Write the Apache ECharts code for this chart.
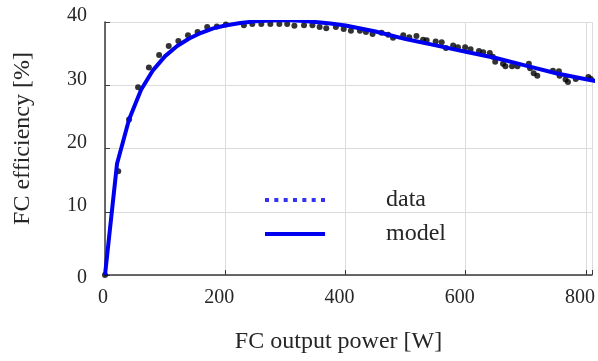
<!DOCTYPE html>
<html>
<head>
<meta charset="utf-8">
<script src="https://cdn.jsdelivr.net/npm/echarts@6/dist/echarts.min.js"></script>
<style>
  html, body { margin: 0; padding: 0; background: #fff; }
  #chart { width: 598px; height: 361px; }
</style>
</head>
<body>
<div id="chart"></div>
<script>
  // measured points (power W, efficiency %)
  var dataPower = [0, 22, 40, 55, 73, 90, 106, 122, 138, 154, 170, 186, 201, 215, 231, 245, 260, 275, 290, 303,
    315, 331, 345, 357, 368, 384, 397, 409, 424, 434, 445, 460, 471, 479, 496, 506, 518, 529, 535, 550,
    560, 567, 579, 587, 599, 608, 622, 629, 640, 645, 649, 662, 666, 677, 686, 705, 707, 713, 719, 745,
    755, 756, 766, 770, 783, 804, 808];
  var dataEff = [0, 16.4, 24.6, 29.7, 32.8, 34.8, 36.2, 37.0, 37.9, 38.4, 39.2, 39.3, 39.6, 40.1, 39.5, 39.7, 39.7, 39.7, 39.7, 39.7,
    39.4, 39.5, 39.5, 39.2, 39.0, 39.2, 38.9, 38.6, 38.6, 38.4, 38.1, 38.3, 38.0, 37.5, 37.9, 37.6, 37.8, 37.2, 37.1, 36.9,
    36.8, 35.9, 36.3, 36.0, 36.0, 35.7, 35.4, 35.2, 35.1, 34.5, 33.7, 33.4, 33.0, 33.0, 33.0, 33.4, 32.7, 31.9, 31.5, 32.3,
    32.2, 31.5, 30.9, 30.5, 31.0, 31.3, 31.0];

  // model curve
  var modelPower = [0, 20, 40, 60, 80, 100, 120, 140, 160, 180, 200, 225, 250, 275, 300, 325, 350, 375, 400,
    450, 500, 550, 600, 650, 700, 750, 800, 820];
  var modelEff = [0, 17.6, 24.6, 29.3, 32.4, 34.6, 36.2, 37.4, 38.3, 39.0, 39.45, 39.85, 40.1, 40.25, 40.3, 40.2, 40.0, 39.75, 39.45,
    38.5, 37.3, 36.3, 35.3, 34.3, 33.1, 31.9, 30.95, 30.6];

  var xTicks = [0, 200, 400, 600, 800];
  var yTicks = [0, 10, 20, 30, 40];

  var fontFam = "'Liberation Serif', 'Times New Roman', serif";
  var ink = '#262626';
  var blue = '#0000f0';

  function zip(a, b) {
    return a.map(function (v, i) { return [v, b[i]]; });
  }

  var dotted = 'path://M0 0h4v4h-4z M9.33 0h4v4h-4z M18.67 0h4v4h-4z M28 0h4v4h-4z M37.33 0h4v4h-4z M46.67 0h4v4h-4z M56 0h4v4h-4z';

  var myChart = echarts.init(document.getElementById('chart'));
  myChart.setOption({
    animation: false,
    grid: { left: 105, right: 0, top: 22, bottom: 86 },
    legend: {
      orient: 'vertical',
      left: 260,
      top: 183,
      itemWidth: 60,
      itemHeight: 4,
      itemGap: 10,
      textStyle: { fontFamily: fontFam, fontSize: 24, color: ink, padding: [0, 0, 0, 56] },
      data: [
        { name: 'data', icon: dotted, itemStyle: { color: blue } },
        { name: 'model', icon: 'rect', itemStyle: { color: blue } }
      ]
    },
    xAxis: {
      type: 'value',
      min: 0,
      max: 810,
      interval: 200,
      name: 'FC output power [W]',
      nameLocation: 'middle',
      nameGap: 55,
      nameTextStyle: { fontFamily: fontFam, fontSize: 24, color: ink, padding: [0, 20, 0, 0] },
      axisLine: { lineStyle: { color: '#3a3a3a', width: 1.5 } },
      axisTick: { inside: true, length: 5, lineStyle: { color: '#3a3a3a' } },
      splitLine: { lineStyle: { color: '#dcdcdc' } },
      axisLabel: {
        margin: 13,
        formatter: function (v) {
          if (xTicks.indexOf(v) < 0) return '';
          return v === 0 ? '{z|0}' : '{t|' + v + '}';
        },
        rich: {
          t: { fontFamily: fontFam, fontSize: 20, color: ink, padding: [0, 12, 0, 0] },
          z: { fontFamily: fontFam, fontSize: 20, color: ink, padding: [0, 4, 0, 0] }
        }
      }
    },
    yAxis: {
      type: 'value',
      min: 0,
      max: 40,
      interval: 10,
      name: 'FC efficiency [%]',
      nameLocation: 'middle',
      nameGap: 70,
      nameTextStyle: { fontFamily: fontFam, fontSize: 24, color: ink, padding: [0, 0, 0, 20] },
      axisLine: { lineStyle: { color: '#3a3a3a', width: 1.5 } },
      axisTick: { inside: true, length: 5, lineStyle: { color: '#3a3a3a' } },
      splitLine: { lineStyle: { color: '#dcdcdc' } },
      axisLabel: {
        margin: 18,
        formatter: function (v) {
          if (yTicks.indexOf(v) < 0) return '';
          return v === 0 ? '{z|0}' : '{t|' + v + '}';
        },
        rich: {
          t: { fontFamily: fontFam, fontSize: 20, color: ink, padding: [0, 0, 12, 0] },
          z: { fontFamily: fontFam, fontSize: 20, color: ink, padding: [6, 0, 0, 0] }
        }
      }
    },
    series: [
      {
        name: 'data',
        type: 'scatter',
        symbolSize: 6,
        itemStyle: { color: '#000' },
        z: 3,
        data: zip(dataPower, dataEff)
      },
      {
        name: 'model',
        type: 'line',
        showSymbol: false,
        symbol: 'none',
        lineStyle: { color: blue, width: 4 },
        itemStyle: { color: blue },
        z: 4,
        data: zip(modelPower, modelEff)
      }
    ]
  });
</script>
</body>
</html>
